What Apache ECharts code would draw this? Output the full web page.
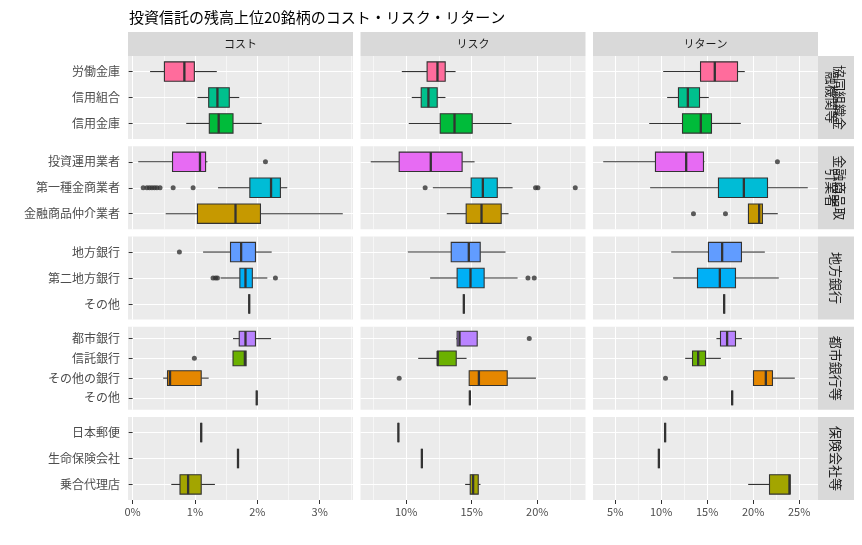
<!DOCTYPE html>
<html>
<head>
<meta charset="utf-8">
<script src="https://cdn.jsdelivr.net/npm/echarts@6/dist/echarts.min.js"></script>
<style>
html,body{margin:0;padding:0;background:#fff;}
#chart{width:862px;height:545px;}
</style>
</head>
<body>
<div id="chart"></div>
<script>
// ---- data (values in %) ----
var chartTitle = '投資信託の残高上位20銘柄のコスト・リスク・リターン';
var measures = ['コスト', 'リスク', 'リターン'];
var groupLabels = ['協同組織金\n融機関等', '金融商品取\n引業者', '地方銀行', '都市銀行等', '保険会社等'];
// categories per group, top to bottom
var groupCats = [
    ['労働金庫', '信用組合', '信用金庫'],
    ['投資運用業者', '第一種金商業者', '金融商品仲介業者'],
    ['地方銀行', '第二地方銀行', 'その他'],
    ['都市銀行', '信託銀行', 'その他の銀行', 'その他'],
    ['日本郵便', '生命保険会社', '乗合代理店']
];
var catColors = ['#FF6C9C', '#00C08D', '#00BB3A', '#E76BF3', '#00BCD6', '#C69900',
    '#619CFF', '#00B0F6', '#FD61D1', '#B983FF', '#6BB100', '#E58700', '#FD61D1',
    '#FF61C3', '#8F91FF', '#A3A500'];

// [lower whisker, Q1, median, Q3, upper whisker], same order as groupCats flattened
var costStats = [
    [0.28, 0.51, 0.83, 0.99, 1.35],
    [1.04, 1.22, 1.36, 1.55, 1.71],
    [0.86, 1.23, 1.38, 1.61, 2.07],
    [0.09, 0.64, 1.08, 1.17, 1.20],
    [1.37, 1.88, 2.22, 2.37, 2.48],
    [0.53, 1.04, 1.65, 2.05, 3.37],
    [1.13, 1.57, 1.74, 1.97, 2.23],
    [1.41, 1.72, 1.81, 1.92, 2.16],
    [1.87, 1.87, 1.87, 1.87, 1.87],
    [1.61, 1.71, 1.81, 1.97, 2.22],
    [1.61, 1.61, 1.80, 1.82, 1.82],
    [0.49, 0.56, 0.60, 1.10, 1.22],
    [1.99, 1.99, 1.99, 1.99, 1.99],
    [1.10, 1.10, 1.10, 1.10, 1.10],
    [1.69, 1.69, 1.69, 1.69, 1.69],
    [0.62, 0.76, 0.89, 1.10, 1.32]
];
var riskStats = [
    [9.67, 11.60, 12.39, 12.98, 13.77],
    [10.43, 11.15, 11.70, 12.37, 13.00],
    [10.20, 12.60, 13.69, 15.04, 18.04],
    [7.30, 9.47, 11.88, 14.27, 15.22],
    [12.04, 14.96, 15.85, 16.95, 18.12],
    [13.10, 14.58, 15.75, 17.25, 17.81],
    [10.13, 13.44, 14.78, 15.65, 17.58],
    [11.83, 13.89, 14.91, 15.95, 18.50],
    [14.40, 14.40, 14.40, 14.40, 14.40],
    [13.82, 13.89, 14.07, 15.42, 15.42],
    [10.92, 12.39, 12.41, 13.82, 14.61],
    [14.81, 14.81, 15.55, 17.71, 19.90],
    [14.86, 14.86, 14.86, 14.86, 14.86],
    [9.41, 9.41, 9.41, 9.41, 9.41],
    [11.20, 11.20, 11.20, 11.20, 11.20],
    [14.50, 14.89, 15.11, 15.50, 15.67]
];
var returnStats = [
    [10.22, 14.28, 15.83, 18.30, 19.09],
    [10.65, 11.88, 12.90, 14.17, 15.18],
    [8.70, 12.32, 14.31, 15.47, 18.66],
    [3.70, 9.38, 12.72, 14.60, 14.71],
    [8.80, 16.23, 18.99, 21.56, 25.94],
    [19.49, 19.49, 20.65, 21.01, 22.68],
    [11.09, 15.14, 16.63, 18.73, 21.27],
    [11.30, 13.95, 16.38, 18.08, 22.79],
    [16.85, 16.85, 16.85, 16.85, 16.85],
    [16.01, 16.45, 17.17, 18.08, 18.77],
    [12.61, 13.41, 14.02, 14.82, 16.49],
    [20.04, 20.04, 21.38, 22.10, 24.53],
    [17.72, 17.72, 17.72, 17.72, 17.72],
    [10.43, 10.43, 10.43, 10.43, 10.43],
    [9.75, 9.75, 9.75, 9.75, 9.75],
    [19.46, 21.78, 23.95, 24.02, 24.02]
];
// outliers: [category index, value]
var costOutliers = [[3, 2.13], [4, 0.17], [4, 0.23], [4, 0.27], [4, 0.31], [4, 0.35], [4, 0.39],
    [4, 0.44], [4, 0.65], [4, 0.97], [6, 0.75], [7, 1.29], [7, 1.33], [7, 1.36], [7, 2.29], [10, 0.99]];
var riskOutliers = [[4, 11.45], [4, 19.87], [4, 20.05], [4, 22.90], [7, 19.29], [7, 19.77],
    [9, 19.39], [11, 9.47]];
var returnOutliers = [[3, 22.64], [5, 13.51], [5, 16.99], [11, 10.47]];

var costTicks = [0, 1, 2, 3], costMinor = [0.5, 1.5, 2.5, 3.5];
var riskTicks = [10, 15, 20], riskMinor = [7.5, 12.5, 17.5, 22.5];
var returnTicks = [5, 10, 15, 20, 25], returnMinor = [7.5, 12.5, 17.5, 22.5];

// ---- layout ----
var FONT = '"Noto Sans CJK JP", sans-serif';
var colLeft = [128, 360.5, 593], colW = 225;
var rowTop0 = 56, rowH = 83, rowStep = 90.25;

var stats = [costStats, riskStats, returnStats];
var outliers = [costOutliers, riskOutliers, returnOutliers];
var majors = [costTicks, riskTicks, returnTicks];
var minors = [costMinor, riskMinor, returnMinor];

// flattened category index -> group row and y position (top = n)
var catPos = [];
groupCats.forEach(function (cats, r) {
    cats.forEach(function (name, i) { catPos.push({ r: r, y: cats.length - i }); });
});

// ggplot-like 5% expansion of each measure's data range
function extentOf(c) {
    var lo = Infinity, hi = -Infinity;
    stats[c].forEach(function (s) { lo = Math.min(lo, s[0]); hi = Math.max(hi, s[4]); });
    outliers[c].forEach(function (o) { lo = Math.min(lo, o[1]); hi = Math.max(hi, o[1]); });
    var pad = (hi - lo) * 0.05;
    return [lo - pad, hi + pad];
}
var ext = [extentOf(0), extentOf(1), extentOf(2)];

function renderBox(params, api) {
    var y = api.value(0);
    var color = catColors[api.value(6)];
    var half = api.size([0, 1])[1] * 0.375;
    var pLo = api.coord([api.value(1), y]);
    var pQ1 = api.coord([api.value(2), y]);
    var pMd = api.coord([api.value(3), y]);
    var pQ3 = api.coord([api.value(4), y]);
    var pHi = api.coord([api.value(5), y]);
    var cy = pMd[1];
    var ln = { stroke: '#333333', lineWidth: 1.1 };
    return {
        type: 'group',
        children: [
            { type: 'line', shape: { x1: pLo[0], y1: cy, x2: pQ1[0], y2: cy }, style: ln },
            { type: 'line', shape: { x1: pQ3[0], y1: cy, x2: pHi[0], y2: cy }, style: ln },
            { type: 'rect', shape: { x: pQ1[0], y: cy - half, width: pQ3[0] - pQ1[0], height: half * 2 },
              style: { fill: color, stroke: '#333333', lineWidth: 1.1 } },
            { type: 'line', shape: { x1: pMd[0], y1: cy - half, x2: pMd[0], y2: cy + half },
              style: { stroke: '#333333', lineWidth: 2.3 } }
        ]
    };
}

var grids = [], xAxes = [], yAxes = [], series = [], graphics = [];

for (var r = 0; r < groupCats.length; r++) {
    for (var c = 0; c < 3; c++) {
        (function (r, c) {
            var g = r * 3 + c;
            var cats = groupCats[r];
            var n = cats.length;
            var ys = [];
            for (var k = 1; k <= n; k++) ys.push(k);
            grids.push({
                left: colLeft[c], top: rowTop0 + r * rowStep, width: colW, height: rowH,
                show: true, backgroundColor: '#EBEBEB', borderWidth: 0
            });
            xAxes.push({
                type: 'value', gridIndex: g, min: ext[c][0], max: ext[c][1],
                axisLine: { show: false },
                axisTick: { show: r === 4, length: 4, lineStyle: { color: '#333333' }, customValues: majors[c] },
                axisLabel: { show: r === 4, customValues: majors[c], margin: 6, color: '#4D4D4D',
                    fontSize: 11, fontFamily: FONT, formatter: function (v) { return v + '%'; } },
                splitLine: { show: true, lineStyle: { color: '#FFFFFF', width: 1.1 } }
            });
            yAxes.push({
                type: 'value', gridIndex: g, min: 0.4, max: n + 0.6,
                axisLine: { show: false },
                axisTick: { show: c === 0, length: 4, lineStyle: { color: '#333333' }, customValues: ys },
                axisLabel: { show: c === 0, customValues: ys, margin: 8, color: '#4D4D4D',
                    fontSize: 12, fontFamily: FONT, formatter: function (v) { return cats[n - v]; } },
                splitLine: { show: true, lineStyle: { color: '#FFFFFF', width: 1.1 } }
            });
            var boxData = [], outData = [];
            catPos.forEach(function (p, k) {
                if (p.r !== r) return;
                var s = stats[c][k];
                boxData.push([p.y, s[0], s[1], s[2], s[3], s[4], k]);
            });
            outliers[c].forEach(function (o) {
                if (catPos[o[0]].r === r) outData.push([o[1], catPos[o[0]].y]);
            });
            series.push({
                type: 'custom', xAxisIndex: g, yAxisIndex: g, renderItem: renderBox,
                encode: { x: [1, 2, 3, 4, 5], y: 0 }, data: boxData, silent: true, z: 3
            });
            series.push({
                type: 'scatter', xAxisIndex: g, yAxisIndex: g, data: outData, symbolSize: 5,
                itemStyle: { color: '#333333' }, silent: true, z: 4
            });
        })(r, c);
    }
}

// minor vertical grid lines: an extra invisible x axis per panel
for (var g2 = 0; g2 < 15; g2++) {
    var cc = g2 % 3;
    xAxes.push({
        type: 'value', gridIndex: g2, position: 'top', min: ext[cc][0], max: ext[cc][1],
        axisLine: { show: false },
        axisTick: { show: false, customValues: minors[cc] },
        axisLabel: { show: false, customValues: minors[cc] },
        splitLine: { show: true, lineStyle: { color: '#FFFFFF', width: 0.55 } }
    });
}

// facet strips
measures.forEach(function (m, c) {
    graphics.push({ type: 'rect', x: colLeft[c], y: 32, shape: { width: colW, height: 24 },
        style: { fill: '#D9D9D9' }, silent: true });
    graphics.push({ type: 'text', x: colLeft[c] + colW / 2, y: 44,
        style: { text: m, textAlign: 'center', textVerticalAlign: 'middle', fill: '#1A1A1A',
            font: '11px ' + FONT }, silent: true });
});
groupLabels.forEach(function (lab, r) {
    var top = rowTop0 + r * rowStep;
    graphics.push({ type: 'rect', x: 818, y: top, shape: { width: 36, height: rowH },
        style: { fill: '#D9D9D9' }, silent: true });
    graphics.push({ type: 'text', x: 836, y: top + rowH / 2, rotation: -Math.PI / 2,
        style: { text: lab, textAlign: 'center', textVerticalAlign: 'middle', fill: '#1A1A1A',
            font: '13px ' + FONT, lineHeight: 8 }, silent: true });
});

var chart = echarts.init(document.getElementById('chart'));
chart.setOption({
    backgroundColor: '#FFFFFF',
    animation: false,
    title: {
        text: chartTitle, left: 124, top: 5,
        textStyle: { fontSize: 15, fontWeight: 'normal', color: '#000000', fontFamily: FONT }
    },
    grid: grids,
    xAxis: xAxes,
    yAxis: yAxes,
    series: series,
    graphic: graphics
});
</script>
</body>
</html>
